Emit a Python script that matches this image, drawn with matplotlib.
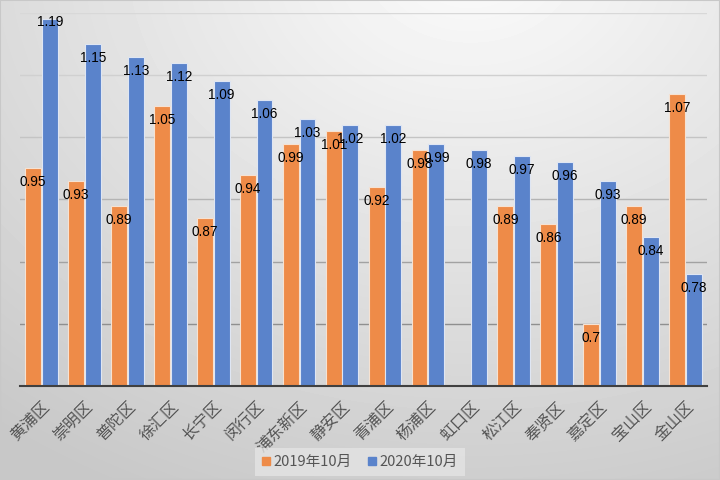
import matplotlib.pyplot as plt
import numpy as np
from matplotlib.lines import Line2D
from matplotlib.patches import Rectangle

districts = ["黄浦区", "崇明区", "普陀区", "徐汇区", "长宁区", "闵行区", "浦东新区", "静安区",
             "青浦区", "杨浦区", "虹口区", "松江区", "奉贤区", "嘉定区", "宝山区", "金山区"]
v2019 = [0.95, 0.93, 0.89, 1.05, 0.87, 0.94, 0.99, 1.01,
         0.92, 0.98, np.nan, 0.89, 0.86, 0.70, 0.89, 1.07]
v2020 = [1.19, 1.15, 1.13, 1.12, 1.09, 1.06, 1.03, 1.02,
         1.02, 0.99, 0.98, 0.97, 0.96, 0.93, 0.84, 0.78]
series_names = ["2019年10月", "2020年10月"]

c19 = "#EE8B48"
c20 = "#5A83CB"

fig = plt.figure(figsize=(7.2, 4.8), dpi=100)

# radial grey background, lightest near the top
bg = fig.add_axes([0, 0, 1, 1], zorder=-10)
yy, xx = np.mgrid[0:480, 0:720]
r = np.sqrt(((xx - 470) / 720.0) ** 2 + ((yy + 40) / 560.0) ** 2)
r = np.clip(r / 1.05, 0, 1)
shade = 0.985 - 0.2 * r
bg.imshow(shade, cmap="gray", vmin=0, vmax=1, aspect="auto", extent=[0, 1, 0, 1])
bg.axis("off")
bg.add_patch(Rectangle((0, 0), 1, 1, transform=bg.transAxes, fill=False,
                       edgecolor="#c8c8c8", linewidth=1.5))

ax = fig.add_axes([20 / 720, 1 - 386 / 480, 687 / 720, 373 / 480])
ax.patch.set_alpha(0)

x = np.arange(len(districts))
w = 0.37
off = 0.195
ax.bar(x - off, v2019, w, color=c19, edgecolor="#f6e2d2", linewidth=0.8, zorder=3)
ax.bar(x + off, v2020, w, color=c20, edgecolor="#dfe6f3", linewidth=0.8, zorder=3)

ax.set_ylim(0.6, 1.2)
ax.set_xlim(-0.5, len(districts) - 0.5)

grid_cols = {0.7: "#8f8f8f", 0.8: "#a2a2a2", 0.9: "#b4b4b4",
             1.0: "#c4c4c4", 1.1: "#d0d0d0", 1.2: "#d8d8d8"}
for gy, gc in grid_cols.items():
    ax.axhline(gy, color=gc, linewidth=1.0, zorder=1)

for s in ["top", "right", "left"]:
    ax.spines[s].set_visible(False)
ax.spines["bottom"].set_color("#404040")
ax.spines["bottom"].set_linewidth(1.5)
ax.spines["bottom"].set_zorder(4)
ax.set_yticks([])
ax.set_xticks(x)
ax.set_xticklabels(districts, rotation=45, ha="right", va="top",
                   rotation_mode="anchor", fontsize=11.5, color="#555555",
                   family=["Noto Sans CJK SC", "DejaVu Sans"])
ax.tick_params(axis="x", length=0, pad=9)

def put_labels(xs, vals):
    for xi, v in zip(xs, vals):
        if np.isnan(v):
            continue
        # the top label sits right at the bar end, the rest just inside it
        ly = v - 0.0226 if v < 1.18 else v - 0.004
        ax.text(xi, ly, f"{v:g}", ha="center", va="center", fontsize=9.8,
                color="black", family="Liberation Sans", zorder=5)

put_labels(x - off, v2019)
put_labels(x + off, v2020)

handles = [Line2D([], [], marker="s", linestyle="none", color=c19, markersize=6),
           Line2D([], [], marker="s", linestyle="none", color=c20, markersize=6)]
leg = fig.legend(handles, series_names, loc="center", bbox_to_anchor=(0.5, 1 - 462 / 480),
                 ncol=2, frameon=True, handlelength=0.6,
                 handletextpad=0.2, columnspacing=1.1, borderpad=0.3,
                 prop={"family": ["Noto Sans CJK SC", "DejaVu Sans"], "size": 10.5})
leg.get_frame().set_facecolor("#e4e4e4")
leg.get_frame().set_edgecolor("none")
leg.get_frame().set_boxstyle("square", pad=0.2)
for t in leg.get_texts():
    t.set_color("#555555")

fig.savefig("out.png", dpi=100)
